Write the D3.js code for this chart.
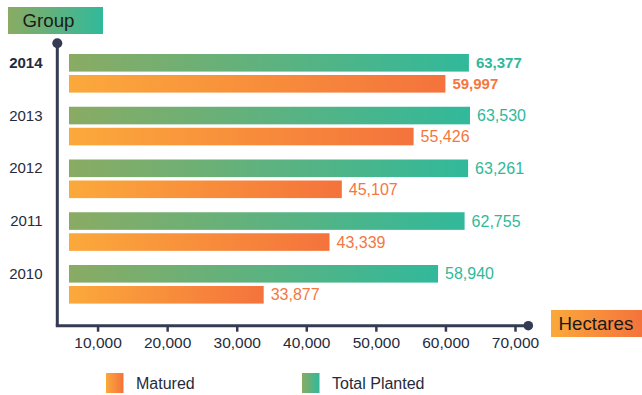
<!DOCTYPE html>
<html>
<head>
<meta charset="utf-8">
<script src="https://cdn.jsdelivr.net/npm/d3@7"></script>
<style>
  html, body { margin: 0; padding: 0; background: #fff; }
  svg { display: block; font-family: "Liberation Sans", Arial, Helvetica, sans-serif; }
</style>
</head>
<body>
<svg id="chart" width="642" height="395"></svg>
<script>
// Plantation area by year, in hectares
const years = ["2014", "2013", "2012", "2011", "2010"];
const totalPlanted = [63377, 63530, 63261, 62755, 58940];
const matured = [59997, 55426, 45107, 43339, 33877];
const xTicks = [10000, 20000, 30000, 40000, 50000, 60000, 70000];
const seriesNames = ["Matured", "Total Planted"];
const highlightYear = "2014";

const svg = d3.select("#chart");
const defs = svg.append("defs");

function gradient(id, from, to) {
  const g = defs.append("linearGradient").attr("id", id)
    .attr("x1", "0%").attr("x2", "100%").attr("y1", "0%").attr("y2", "0%");
  g.append("stop").attr("offset", "0%").attr("stop-color", from);
  g.append("stop").attr("offset", "100%").attr("stop-color", to);
}
gradient("gradGreen", "#8aab63", "#31b99b");
gradient("gradOrange", "#fba93b", "#f4733c");

const axisColor = "#343b52";
const textColor = "#262b3c";
const tealText = "#2fb99a";
const orangeText = "#f4773f";

// Scales
const x = d3.scaleLinear().domain([0, 70000]).range([28, 515]);
const y = d3.scaleBand().domain(years).range([54, 317.75]).paddingInner(0).paddingOuter(0);

const axisX = 57.3, axisY = 325.7, axisTop = 43.3, axisRight = 528.3;
const barStart = 69;
const barH = 17.6, barGap = 3.4;

// Axis lines with end dots
svg.append("line").attr("x1", axisX).attr("x2", axisX).attr("y1", axisTop).attr("y2", axisY)
  .attr("stroke", axisColor).attr("stroke-width", 3);
svg.append("line").attr("x1", axisX - 1.5).attr("x2", axisRight).attr("y1", axisY).attr("y2", axisY)
  .attr("stroke", axisColor).attr("stroke-width", 3);
svg.append("circle").attr("cx", axisX).attr("cy", axisTop).attr("r", 5).attr("fill", axisColor);
svg.append("circle").attr("cx", axisRight).attr("cy", axisY).attr("r", 4.8).attr("fill", axisColor);

// Bottom axis ticks and labels
const xAxis = d3.axisBottom(x).tickValues(xTicks).tickSize(6).tickPadding(5)
  .tickFormat(d3.format(","));
const gx = svg.append("g").attr("transform", `translate(0,${axisY})`).call(xAxis);
gx.select(".domain").remove();
gx.selectAll(".tick line").attr("stroke", axisColor).attr("stroke-width", 2.5);
gx.selectAll(".tick text").attr("fill", textColor).attr("font-size", "15.5px")
  .attr("font-family", "'Liberation Sans', Arial, sans-serif");

// Year labels
svg.append("g").selectAll("text").data(years).join("text")
  .attr("x", 42.5)
  .attr("y", d => y(d) + 8.6)
  .attr("dy", "0.35em")
  .attr("text-anchor", "end")
  .attr("fill", textColor)
  .attr("font-size", "15px")
  .attr("font-weight", d => d === highlightYear ? "bold" : "normal")
  .text(d => d);

// Bars
const rows = years.map((yr, i) => ({ year: yr, total: totalPlanted[i], matured: matured[i] }));
const g = svg.append("g");

g.selectAll("rect.total").data(rows).join("rect")
  .attr("class", "total")
  .attr("x", barStart)
  .attr("y", d => y(d.year))
  .attr("width", d => x(d.total) - barStart)
  .attr("height", barH)
  .attr("fill", "url(#gradGreen)");

g.selectAll("rect.matured").data(rows).join("rect")
  .attr("class", "matured")
  .attr("x", barStart)
  .attr("y", d => y(d.year) + barH + barGap)
  .attr("width", d => x(d.matured) - barStart)
  .attr("height", barH)
  .attr("fill", "url(#gradOrange)");

// Value labels
const fmt = d3.format(",");
g.selectAll("text.total").data(rows).join("text")
  .attr("class", "total")
  .attr("x", d => x(d.total) + 7)
  .attr("y", d => y(d.year) + barH / 2)
  .attr("dy", "0.35em")
  .attr("fill", tealText)
  .attr("font-size", d => d.year === highlightYear ? "15px" : "16px")
  .attr("font-weight", d => d.year === highlightYear ? "bold" : "normal")
  .text(d => fmt(d.total));

g.selectAll("text.matured").data(rows).join("text")
  .attr("class", "matured")
  .attr("x", d => x(d.matured) + 7)
  .attr("y", d => y(d.year) + barH + barGap + barH / 2)
  .attr("dy", "0.35em")
  .attr("fill", orangeText)
  .attr("font-size", d => d.year === highlightYear ? "15px" : "16px")
  .attr("font-weight", d => d.year === highlightYear ? "bold" : "normal")
  .text(d => fmt(d.matured));

// Axis title boxes
svg.append("rect").attr("x", 8).attr("y", 7).attr("width", 95).attr("height", 27)
  .attr("fill", "url(#gradGreen)");
svg.append("text").attr("x", 22.5).attr("y", 20.5).attr("dy", "0.35em")
  .attr("font-size", "18.7px").attr("fill", "#1a1a1a").text("Group");

svg.append("rect").attr("x", 551).attr("y", 310).attr("width", 91).attr("height", 27)
  .attr("fill", "url(#gradOrange)");
svg.append("text").attr("x", 558.5).attr("y", 323.5).attr("dy", "0.35em")
  .attr("font-size", "18.7px").attr("fill", "#1a1a1a").text("Hectares");

// Legend
const legend = [
  { name: seriesNames[0], fill: "url(#gradOrange)", x: 106 },
  { name: seriesNames[1], fill: "url(#gradGreen)", x: 302 }
];
const lg = svg.append("g").selectAll("g").data(legend).join("g")
  .attr("transform", d => `translate(${d.x},373)`);
lg.append("rect").attr("width", 17.5).attr("height", 20).attr("fill", d => d.fill);
lg.append("text").attr("x", 30).attr("y", 10).attr("dy", "0.35em")
  .attr("font-size", "16px").attr("fill", textColor).text(d => d.name);
</script>
</body>
</html>
